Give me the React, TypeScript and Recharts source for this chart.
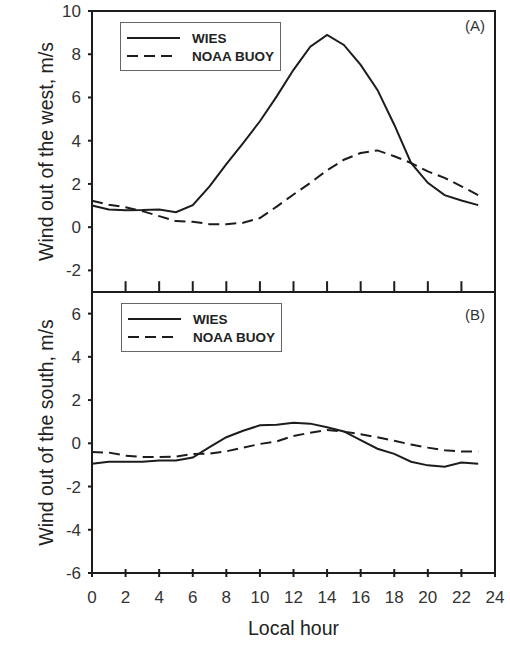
import React from 'react'
import { LineChart, Line, XAxis, YAxis, ReferenceArea, ReferenceLine, Legend } from 'recharts'

// local hour of day
const hours = [0, 1, 2, 3, 4, 5, 6, 7, 8, 9, 10, 11, 12, 13, 14, 15, 16, 17, 18, 19, 20, 21, 22, 23]

// (A) wind out of the west, m/s
const westWies = [1.0, 0.82, 0.78, 0.79, 0.82, 0.69, 1.02, 1.89, 2.92, 3.89, 4.9, 6.05, 7.28, 8.35, 8.89, 8.43, 7.51, 6.35, 4.74, 2.97, 2.05, 1.48, 1.23, 1.02]
const westBuoy = [1.22, 1.04, 0.92, 0.74, 0.51, 0.28, 0.25, 0.14, 0.14, 0.2, 0.42, 0.95, 1.51, 2.05, 2.63, 3.12, 3.43, 3.55, 3.28, 2.97, 2.58, 2.28, 1.89, 1.48]

// (B) wind out of the south, m/s
const southWies = [-0.95, -0.85, -0.85, -0.85, -0.8, -0.8, -0.66, -0.18, 0.28, 0.58, 0.83, 0.86, 0.95, 0.91, 0.74, 0.55, 0.15, -0.25, -0.49, -0.85, -1.02, -1.08, -0.89, -0.95]
const southBuoy = [-0.4, -0.43, -0.57, -0.63, -0.63, -0.62, -0.49, -0.48, -0.37, -0.2, -0.03, 0.09, 0.34, 0.49, 0.62, 0.54, 0.42, 0.28, 0.12, -0.06, -0.2, -0.32, -0.38, -0.37]

const hourTicks = [0, 2, 4, 6, 8, 10, 12, 14, 16, 18, 20, 22, 24]
const westTicks = [-2, 0, 2, 4, 6, 8, 10]
const southTicks = [-6, -4, -2, 0, 2, 4, 6]

const seriesNames = ['WIES', 'NOAA BUOY']

const westData = hours.map((h, i) => ({ hour: h, wies: westWies[i], buoy: westBuoy[i] }))
const southData = hours.map((h, i) => ({ hour: h, wies: southWies[i], buoy: southBuoy[i] }))

const WEST_MIN = -3
const WEST_MAX = 10
// inner tick length on panel A's floor, in data units
const innerTickLen = 0.5

const FONT = '"Liberation Sans", Arial, sans-serif'
const INK = '#1c1c1c'
const DASH = '11 6'

const LegendBox = () => (
  <div
    style={{
      width: 159,
      height: 47,
      border: '1px solid #666',
      background: '#fff',
      fontFamily: FONT,
      fontWeight: 'bold',
      fontSize: 13.5,
      color: '#222',
    }}
  >
    {seriesNames.map((name, i) => (
      <div key={name} style={{ display: 'flex', alignItems: 'center', height: 18, marginTop: i === 0 ? 6 : 0 }}>
        <svg width={60} height={10} style={{ marginLeft: 6 }}>
          <line x1={0} x2={i === 0 ? 53 : 45} y1={5} y2={5} stroke={INK} strokeWidth={2} strokeDasharray={i === 0 ? undefined : DASH} />
        </svg>
        <span style={{ marginLeft: 5 }}>{name}</span>
      </div>
    ))}
  </div>
)

// panel B floor: ticks crossing the axis, with labels
const BottomTick = ({ x, y, payload }: { x: number; y: number; payload: { value: number } }) => (
  <g>
    <line x1={x} x2={x} y1={y - 22} y2={y - 14} stroke={INK} strokeWidth={2} />
    <text x={x} y={y} dy='0.71em' textAnchor='middle' fontSize={17} fill='#333' fontFamily={FONT}>
      {payload.value}
    </text>
  </g>
)

const yTickStyle = { fontSize: 17, fill: '#333', fontFamily: FONT }
const yLabelStyle = { fontSize: 19.5, fill: '#222', fontFamily: FONT, textAnchor: 'middle' as const }
const tagStyle = { fontSize: 15, fill: '#333', fontFamily: FONT }

export default function App() {
  return (
    <div style={{ position: 'absolute', left: 0, top: 0, width: 510, height: 645, background: '#fff', fontFamily: FONT }}>
      <div style={{ position: 'absolute', left: 0, top: 280 }}>
        <LineChart width={510} height={365} data={southData} margin={{ top: 12, right: 15, bottom: 0, left: 0 }}>
          <XAxis
            dataKey='hour'
            type='number'
            domain={[0, 24]}
            ticks={hourTicks}
            interval={0}
            height={72}
            tickSize={4}
            tickMargin={14}
            tickLine={false}
            tick={BottomTick}
            axisLine={{ stroke: INK, strokeWidth: 2 }}
            label={{ value: 'Local hour', position: 'insideBottom', offset: 10, style: { fontSize: 19.5, fill: '#222', fontFamily: FONT } }}
          />
          <YAxis
            type='number'
            domain={[-6, 7]}
            ticks={southTicks}
            width={92}
            tickSize={4}
            tickMargin={7}
            tick={yTickStyle}
            axisLine={{ stroke: INK, strokeWidth: 2 }}
            tickLine={{ stroke: INK, strokeWidth: 2 }}
            label={{ value: 'Wind out of the south, m/s', angle: -90, position: 'insideLeft', offset: 46, style: yLabelStyle }}
          />
          <ReferenceArea
            x1={0}
            x2={24}
            y1={-6}
            y2={7}
            fill='none'
            stroke={INK}
            strokeWidth={2}
            ifOverflow='visible'
            label={{ value: '(B)', position: 'insideTopRight', offset: 10, dy: 7, style: tagStyle }}
          />
          <Legend
            layout='vertical'
            verticalAlign='middle'
            align='center'
            wrapperStyle={{ top: 23, left: 121, width: 'auto' }}
            content={() => <LegendBox />}
          />
          <Line type='linear' dataKey='wies' name='WIES' stroke={INK} strokeWidth={2} dot={false} isAnimationActive={false} />
          <Line type='linear' dataKey='buoy' name='NOAA BUOY' stroke={INK} strokeWidth={2} strokeDasharray={DASH} dot={false} isAnimationActive={false} />
        </LineChart>
      </div>
      <div style={{ position: 'absolute', left: 0, top: 0, zIndex: 1 }}>
        <LineChart width={510} height={300} data={westData} margin={{ top: 11, right: 15, bottom: 0, left: 0 }}>
          <XAxis
            dataKey='hour'
            type='number'
            domain={[0, 24]}
            ticks={hourTicks}
            height={8}
            tickLine={false}
            tick={false}
            axisLine={{ stroke: INK, strokeWidth: 2 }}
          />
          <YAxis
            type='number'
            domain={[WEST_MIN, WEST_MAX]}
            ticks={westTicks}
            width={92}
            tickSize={4}
            tickMargin={7}
            tick={yTickStyle}
            axisLine={{ stroke: INK, strokeWidth: 2 }}
            tickLine={{ stroke: INK, strokeWidth: 2 }}
            label={{ value: 'Wind out of the west, m/s', angle: -90, position: 'insideLeft', offset: 46, style: yLabelStyle }}
          />
          <ReferenceArea
            x1={0}
            x2={24}
            y1={WEST_MIN}
            y2={WEST_MAX}
            fill='none'
            stroke={INK}
            strokeWidth={2}
            ifOverflow='visible'
            label={{ value: '(A)', position: 'insideTopRight', offset: 10, dy: -1, style: tagStyle }}
          />
          {/* panel A floor ticks point up into the plot */}
          {hourTicks.slice(1, -1).map((t) => (
            <ReferenceLine
              key={t}
              segment={[
                { x: t, y: WEST_MIN },
                { x: t, y: WEST_MIN + innerTickLen },
              ]}
              stroke={INK}
              strokeWidth={2}
              ifOverflow='visible'
            />
          ))}
          <Legend
            layout='vertical'
            verticalAlign='middle'
            align='center'
            wrapperStyle={{ top: 22, left: 120, width: 'auto' }}
            content={() => <LegendBox />}
          />
          <Line type='linear' dataKey='wies' name='WIES' stroke={INK} strokeWidth={2} dot={false} isAnimationActive={false} />
          <Line type='linear' dataKey='buoy' name='NOAA BUOY' stroke={INK} strokeWidth={2} strokeDasharray={DASH} dot={false} isAnimationActive={false} />
        </LineChart>
      </div>
    </div>
  )
}
